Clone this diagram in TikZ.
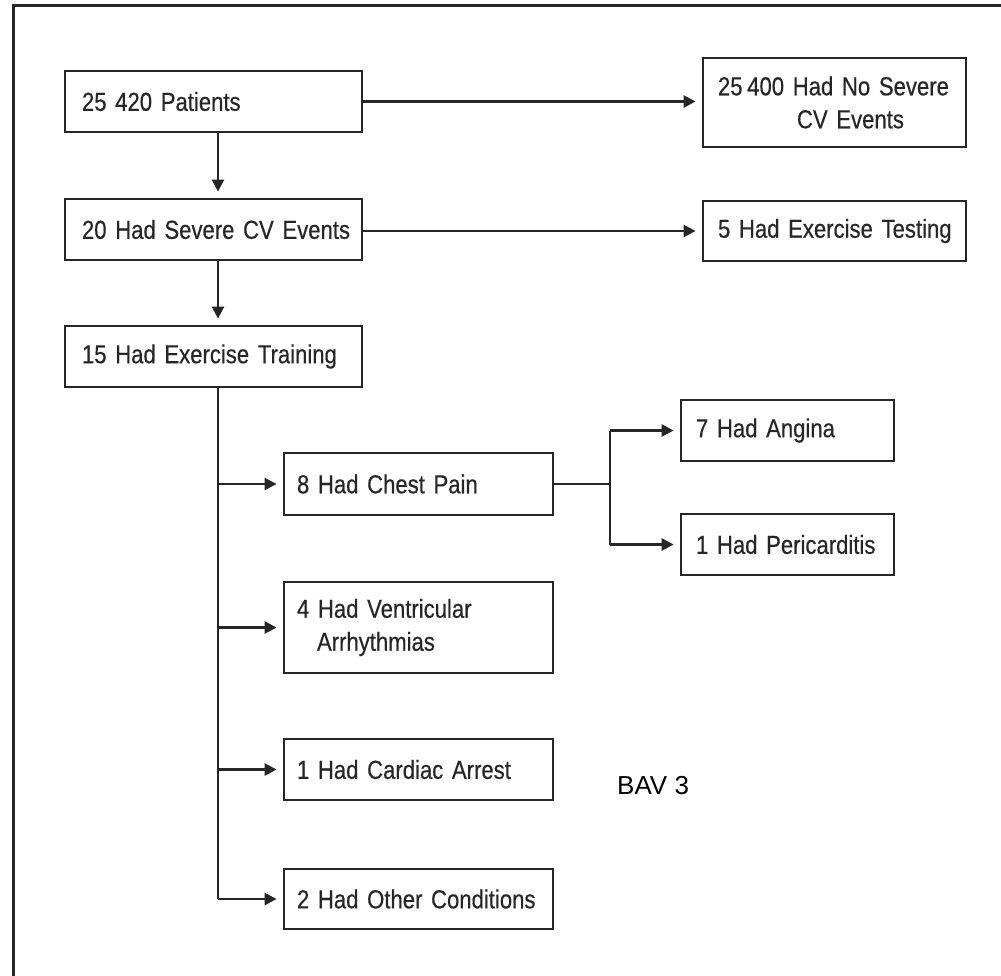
\documentclass[tikz,border=0pt]{standalone}
\usepackage{fontspec}
\setmainfont{Liberation Sans}[FakeStretch=0.85,FakeBold=0.4,WordSpace=0.8]
\newfontfamily\bavfont{Liberation Sans}
\usetikzlibrary{arrows.meta,calc}
\definecolor{ink}{HTML}{262626}
\begin{document}
\begin{tikzpicture}[x=1pt,y=-1pt,
  box/.style={draw=ink, line width=2.8pt, text=ink, rectangle, align=left,
    font=\fontsize{26}{33}\selectfont, inner ysep=2pt},
  leftbox/.style={box, inner xsep=17pt, text width=263pt, minimum width=297pt},
  rightbox/.style={box, inner xsep=15pt, text width=233pt, minimum width=263pt},
  subbox/.style={box, inner xsep=13pt, text width=243pt, minimum width=269pt},
  leafbox/.style={box, inner xsep=15pt, text width=183pt, minimum width=213pt},
  conn/.style={draw=ink, line width=2.5pt},
  arr/.style={conn, -{Triangle[length=12pt,width=12pt]}, shorten >=6pt},
  frameline/.style={draw=ink, line width=3pt}]
\useasboundingbox (0,0) rectangle (1001,975);
\fill[white] (0,0) rectangle (1001,975);
% outer frame (top and left edges only)
\draw[frameline] (13,980) -- (13,5) -- (1006,5);

% left column
\node[leftbox, minimum height=61pt] (B1) at (213.5,101.5) {\mbox{25 420 Patients}};
\node[leftbox, minimum height=61pt] (B2) at (213.5,229.5) {\mbox{20 Had Severe CV Events}};
\node[leftbox, minimum height=61pt] (B3) at (213.5,356.5) {\mbox{15 Had Exercise Training}};

% right column
\node[rightbox, minimum height=89pt] (R1) at (834.5,102.5) {\mbox{25\hspace{0.18em}400 Had No Severe}\\\hspace*{79pt}\mbox{CV Events}};
\node[rightbox, minimum height=60pt] (R2) at (834.5,231) {\mbox{5 Had Exercise Testing}};

% sub boxes
\node[subbox, minimum height=62pt] (C1) at (418.5,484) {\mbox{8 Had Chest Pain}};
\node[subbox, minimum height=91pt] (C2) at (418.5,627.5) {\mbox{4 Had Ventricular}\\\hspace*{20pt}\mbox{Arrhythmias}};
\node[subbox, minimum height=61pt] (C3) at (418.5,769.5) {\mbox{1 Had Cardiac Arrest}};
\node[subbox, minimum height=60pt] (C4) at (418.5,899) {\mbox{2 Had Other Conditions}};

% leaves
\node[leafbox, minimum height=61pt] (A1) at (787.5,430.5) {\mbox{7 Had Angina}};
\node[leafbox, minimum height=61pt] (A2) at (787.5,544.5) {\mbox{1 Had Pericarditis}};

% free label
\node[font=\bavfont\fontsize{26}{30}\selectfont, text=black, inner sep=0pt, anchor=base west] (bav) at (617,794) {BAV 3};

% guide coordinates
\coordinate (T) at (218,0);
\coordinate (BR) at (610,0);

% connectors
\draw[arr] (B1.east) -- (B1.east -| R1.west);
\draw[arr] (R2.west -| B2.east) -- (R2.west);
\draw[arr] (B1.south -| T) -- (B2.north -| T);
\draw[arr] (B2.south -| T) -- (B3.north -| T);
\draw[conn] (B3.south -| T) -- (T |- C4.west);
\draw[arr] (T |- C1.west) -- (C1.west);
\draw[arr] (T |- C2.west) -- (C2.west);
\draw[arr] (T |- C3.west) -- (C3.west);
\draw[arr] (T |- C4.west) -- (C4.west);
\draw[conn] (C1.east) -- (BR |- C1.east);
\draw[conn] (BR |- A1.west) -- (BR |- A2.west);
\draw[arr] (BR |- A1.west) -- (A1.west);
\draw[arr] (BR |- A2.west) -- (A2.west);
\end{tikzpicture}
\end{document}
